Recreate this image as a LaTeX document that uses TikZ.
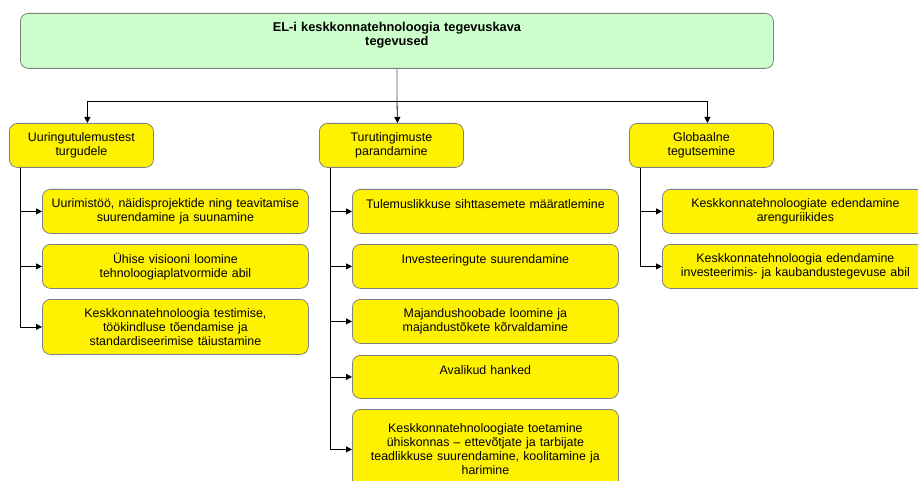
\documentclass[tikz,border=0pt]{standalone}
\usepackage{fontspec}
\setmainfont{Liberation Sans}
\usetikzlibrary{positioning,arrows.meta}

\begin{document}
\begin{tikzpicture}[x=1pt,y=1pt,line width=0.8pt,>={Triangle[length=6pt,width=6pt]},font=\fontsize{12.4}{14}\selectfont]
	\tikzstyle{box}=[draw=black!50,rounded corners=8pt,align=center,anchor=north west,inner sep=2pt]
	\tikzstyle{plan}=[box,fill=green!20,minimum width=753,minimum height=55,text width=700,font=\fontsize{12.8}{14}\selectfont\bfseries]
	\tikzstyle{goal}=[box,fill=yellow,minimum width=144,minimum height=44,text width=138]
	\tikzstyle{action}=[box,fill=yellow,minimum width=266,minimum height=44,text width=260]

	\useasboundingbox (0,0) rectangle (918,-481);
	\clip (0,0) rectangle (918,-481);

	% Draw the top node
	\node[plan] (kava) at (20,-13) {EL-i keskkonnatehnoloogia tegevuskava\\tegevused\\~};
	% Draw the three goals
	\node[goal] (uur) at (9,-123) {Uuringutulemustest\\turgudele};
	\node[goal] (tur) at (319,-123) {Turutingimuste\\parandamine};
	\node[goal] (glo) at (629,-123) {Globaalne\\tegutsemine};
	% Draw the actions under each goal
	\node[action] (uur-1) at (42,-189) {Uurimistöö, näidisprojektide ning teavitamise\\suurendamine ja suunamine};
	\node[action] (uur-2) at (42,-244) {Ühise visiooni loomine\\tehnoloogiaplatvormide abil};
	\node[action,minimum height=55] (uur-3) at (42,-299) {Keskkonnatehnoloogia testimise,\\töökindluse tõendamise ja\\standardiseerimise täiustamine};
	\node[action] (tur-1) at (352,-189) {Tulemuslikkuse sihttasemete määratlemine\\~};
	\node[action] (tur-2) at (352,-244) {Investeeringute suurendamine\\~};
	\node[action] (tur-3) at (352,-299) {Majandushoobade loomine ja\\majandustõkete kõrvaldamine};
	\node[action,minimum height=43] (tur-4) at (352,-355) {Avalikud hanked\\~};
	\node[action,minimum height=80] (tur-5) at (352,-409) {Keskkonnatehnoloogiate toetamine\\ühiskonnas – ettevõtjate ja tarbijate\\teadlikkuse suurendamine, koolitamine ja\\harimine};
	\node[action] (glo-1) at (662,-189) {Keskkonnatehnoloogiate edendamine\\arenguriikides};
	\node[action] (glo-2) at (662,-244) {Keskkonnatehnoloogia edendamine\\investeerimis- ja kaubandustegevuse abil};

	% Connect the top node with the goals
	\coordinate (bus) at (397,-101);
	\draw[black!65] (kava.south) -- (bus);
	\draw[->] (bus) -- ([xshift=6pt]tur.north);
	\draw[->] (bus) -| ([xshift=6pt]uur.north);
	\draw[->] (bus) -| ([xshift=6pt]glo.north);
	% Connect every goal with its actions
	\foreach \n in {1,2,3}
	\draw[->] ([xshift=11pt]uur.south west) |- (uur-\n.west);
	\foreach \n in {1,...,5}
	\draw[->] ([xshift=11pt]tur.south west) |- (tur-\n.west);
	\foreach \n in {1,2}
	\draw[->] ([xshift=11pt]glo.south west) |- (glo-\n.west);
\end{tikzpicture}
\end{document}
